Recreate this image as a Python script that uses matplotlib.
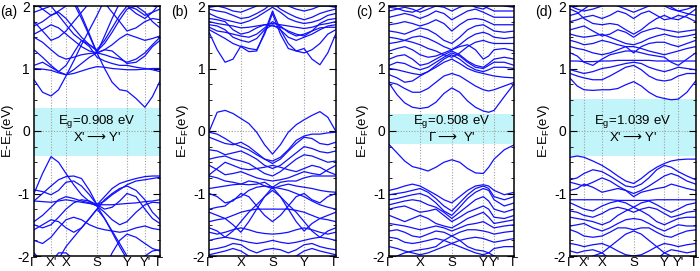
import matplotlib
matplotlib.use("Agg")
import matplotlib.pyplot as plt
from matplotlib.ticker import MultipleLocator

plt.rcParams['font.family'] = ['Liberation Sans', 'DejaVu Sans']
plt.rcParams['mathtext.fontset'] = 'dejavusans'

# ---------------- panel (a) ----------------
A_K = [0, .068, .135, .195, .254, .315, .377, .44, .5, .56, .62, .68, .738, .81, .88, .94, 1.0]
A_TICKS = [0, .135, .254, .5, .738, .88, 1.0]
A_LABELS = ['Γ', "X'", 'X', 'S', 'Y', "Y'", 'Γ']
A_VB = [
    [-1.00, -0.68, -0.41, -0.50, -0.68, -0.86, -1.02, -1.13, -1.20, -1.40, -1.62, -1.85, -2.05, -2.2, -2.3, -2.3, -2.3],
    [-1.12, -1.00, -0.88, -0.78, -0.73, -0.72, -0.76, -0.95, -1.18, -1.05, -0.92, -0.84, -0.80, -0.76, -0.73, -0.72, -0.72],
    [-0.94, -0.97, -1.02, -0.95, -0.82, -0.80, -0.88, -1.02, -1.18, -1.12, -1.02, -0.94, -0.86, -0.80, -0.78, -0.76, -0.74],
    [-1.12, -1.13, -1.14, -1.12, -1.10, -1.12, -1.14, -1.16, -1.18, -1.18, -1.18, -1.17, -1.16, -1.15, -1.13, -1.12, -1.10],
    [-1.45, -1.35, -1.22, -1.10, -1.05, -1.08, -1.12, -1.15, -1.20, -1.30, -1.42, -1.50, -1.45, -1.30, -1.18, -1.14, -1.15],
    [-1.50, -1.55, -1.50, -1.38, -1.25, -1.15, -1.10, -1.12, -1.18, -1.25, -1.22, -1.12, -1.00, -1.05, -1.25, -1.40, -1.48],
    [-1.58, -1.50, -1.42, -1.45, -1.55, -1.62, -1.55, -1.40, -1.25, -1.10, -1.00, -0.92, -0.88, -0.95, -1.10, -1.30, -1.42],
    [-1.75, -1.80, -1.70, -1.55, -1.42, -1.38, -1.42, -1.50, -1.55, -1.58, -1.60, -1.62, -1.60, -1.55, -1.52, -1.56, -1.58],
    [-1.95, -2.10, -2.20, -2.05, -1.85, -1.70, -1.55, -1.40, -1.25, -1.40, -1.60, -1.80, -2.00, -2.10, -2.00, -1.92, -1.90],
    [-2.3, -2.3, -2.10, -1.95, -1.95, -2.05, -2.15, -2.2, -2.3, -2.2, -1.95, -1.75, -1.65, -1.70, -1.80, -1.88, -1.92],
]
A_CB = [
    [0.82, 0.62, 0.56, 0.66, 0.88, 1.12, 1.38, 1.62, 1.85, 2.10, 2.2, 2.2, 2.2, 2.2, 2.2, 2.2, 2.2],
    [2.2, 2.2, 2.2, 2.2, 2.2, 2.10, 1.85, 1.55, 1.25, 1.00, 0.78, 0.66, 0.64, 0.52, 0.38, 0.55, 0.80],
    [1.00, 0.99, 0.97, 0.93, 0.90, 0.92, 0.96, 1.00, 1.03, 1.02, 1.00, 0.99, 0.98, 0.98, 0.99, 1.00, 1.00],
    [1.30, 1.18, 1.05, 0.95, 0.90, 0.98, 1.08, 1.18, 1.25, 1.30, 1.28, 1.18, 1.08, 1.10, 1.20, 1.35, 1.45],
    [1.50, 1.42, 1.30, 1.20, 1.15, 1.18, 1.22, 1.24, 1.25, 1.22, 1.18, 1.15, 1.10, 1.15, 1.25, 1.38, 1.50],
    [1.55, 1.62, 1.70, 1.65, 1.55, 1.45, 1.35, 1.28, 1.25, 1.30, 1.38, 1.48, 1.55, 1.50, 1.45, 1.48, 1.52],
    [1.68, 1.75, 1.85, 1.90, 1.80, 1.65, 1.50, 1.38, 1.28, 1.40, 1.58, 1.78, 1.95, 2.00, 1.90, 1.75, 1.65],
    [1.75, 1.60, 1.45, 1.50, 1.60, 1.75, 1.90, 2.05, 2.10, 2.05, 1.90, 1.75, 1.60, 1.65, 1.75, 1.80, 1.78],
    [1.90, 1.95, 2.00, 1.85, 1.70, 1.55, 1.45, 1.38, 1.30, 1.45, 1.65, 1.85, 2.00, 1.95, 1.85, 1.90, 1.95],
    [2.05, 1.95, 1.85, 1.92, 2.00, 2.10, 2.2, 2.2, 2.2, 2.2, 2.2, 2.10, 2.00, 1.88, 1.80, 1.90, 2.05],
    [2.2, 2.2, 2.2, 2.2, 2.2, 2.05, 1.80, 1.52, 1.25, 1.52, 1.80, 2.05, 2.2, 2.2, 2.2, 2.2, 2.2],
    [1.05, 1.10, 1.02, 0.95, 1.05, 1.25, 1.45, 1.35, 1.18, 1.12, 1.08, 1.05, 1.05, 1.02, 1.00, 0.98, 0.95],
]
A_GAP = (-0.40, 0.37)
A_TEXT = ['E$_\\mathregular{g}$=0.908 eV', "X'$\\longrightarrow$Y'"]

# ---------------- panel (b) ----------------
B_K = [i / 16 for i in range(17)]
B_TICKS = [0, .25, .5, .75, 1.0]
B_LABELS = ['Γ', 'X', 'S', 'Y', 'Γ']
B_VB = [
    [0.00, 0.30, 0.33, 0.28, 0.20, 0.12, -0.02, -0.22, -0.37, -0.22, -0.02, 0.10, 0.18, 0.25, 0.31, 0.22, 0.00],
    [-0.02, -0.05, -0.12, -0.20, -0.25, -0.30, -0.38, -0.45, -0.48, -0.42, -0.30, -0.15, -0.08, -0.05, -0.05, -0.03, -0.02],
    [-0.10, -0.15, -0.20, -0.22, -0.18, -0.25, -0.35, -0.45, -0.52, -0.45, -0.32, -0.20, -0.10, -0.12, -0.20, -0.22, -0.18],
    [-0.30, -0.32, -0.38, -0.35, -0.32, -0.38, -0.45, -0.55, -0.60, -0.55, -0.45, -0.35, -0.25, -0.28, -0.33, -0.35, -0.32],
    [-0.45, -0.42, -0.40, -0.45, -0.48, -0.52, -0.60, -0.68, -0.72, -0.65, -0.55, -0.45, -0.38, -0.40, -0.45, -0.50, -0.48],
    [-0.70, -0.60, -0.50, -0.55, -0.60, -0.62, -0.60, -0.58, -0.55, -0.58, -0.62, -0.65, -0.60, -0.55, -0.58, -0.65, -0.70],
    [-0.55, -0.62, -0.70, -0.68, -0.65, -0.70, -0.75, -0.78, -0.80, -0.78, -0.75, -0.70, -0.65, -0.68, -0.70, -0.62, -0.55],
    [-0.72, -0.75, -0.80, -0.82, -0.85, -0.86, -0.85, -0.82, -0.90, -0.82, -0.80, -0.80, -0.75, -0.72, -0.72, -0.72, -0.72],
    [-0.92, -0.90, -0.88, -0.86, -0.85, -0.80, -0.82, -0.88, -0.92, -0.88, -0.85, -0.88, -0.90, -0.92, -0.95, -0.97, -0.98],
    [-1.30, -1.35, -1.40, -1.50, -1.62, -1.45, -1.25, -1.05, -0.90, -1.05, -1.25, -1.45, -1.60, -1.48, -1.40, -1.35, -1.30],
    [-1.00, -1.05, -1.15, -1.12, -1.00, -1.05, -1.20, -1.35, -1.45, -1.35, -1.20, -1.05, -1.00, -1.10, -1.15, -1.05, -1.00],
    [-1.25, -1.22, -1.20, -1.10, -1.05, -0.95, -0.90, -0.88, -0.90, -0.92, -0.95, -1.00, -1.05, -1.12, -1.18, -1.22, -1.25],
    [-1.55, -1.60, -1.70, -1.60, -1.45, -1.30, -1.18, -1.05, -0.95, -1.05, -1.18, -1.30, -1.45, -1.60, -1.70, -1.60, -1.55],
    [-1.45, -1.42, -1.40, -1.35, -1.30, -1.27, -1.25, -1.25, -1.25, -1.25, -1.25, -1.27, -1.30, -1.35, -1.40, -1.42, -1.45],
    [-1.62, -1.65, -1.62, -1.58, -1.55, -1.58, -1.62, -1.64, -1.65, -1.64, -1.62, -1.58, -1.55, -1.58, -1.62, -1.65, -1.62],
    [-1.75, -1.72, -1.70, -1.72, -1.75, -1.78, -1.80, -1.78, -1.75, -1.78, -1.80, -1.78, -1.75, -1.72, -1.70, -1.72, -1.75],
    [-1.90, -1.88, -1.85, -1.80, -1.82, -1.90, -1.95, -1.90, -1.88, -1.90, -1.95, -1.90, -1.82, -1.80, -1.85, -1.88, -1.90],
    [-1.98, -1.95, -1.92, -1.88, -1.92, -2.00, -2.05, -2.10, -2.10, -2.10, -2.05, -2.00, -1.92, -1.88, -1.92, -1.95, -1.98],
]
B_CB = [
    [1.57, 1.30, 1.10, 1.15, 1.36, 1.32, 1.30, 1.55, 1.88, 1.55, 1.32, 1.28, 1.32, 1.15, 1.06, 1.25, 1.55],
    [1.62, 1.55, 1.48, 1.40, 1.35, 1.27, 1.28, 1.58, 1.92, 1.62, 1.40, 1.28, 1.25, 1.30, 1.40, 1.55, 1.62],
    [1.70, 1.68, 1.62, 1.50, 1.45, 1.42, 1.48, 1.62, 1.70, 1.62, 1.50, 1.45, 1.50, 1.55, 1.62, 1.68, 1.70],
    [1.75, 1.72, 1.70, 1.68, 1.65, 1.66, 1.68, 1.70, 1.72, 1.70, 1.68, 1.66, 1.64, 1.66, 1.70, 1.72, 1.75],
    [1.80, 1.78, 1.75, 1.62, 1.55, 1.58, 1.65, 1.70, 1.68, 1.66, 1.60, 1.55, 1.52, 1.60, 1.72, 1.78, 1.80],
    [1.88, 1.82, 1.78, 1.75, 1.72, 1.76, 1.82, 1.90, 1.98, 1.90, 1.80, 1.75, 1.72, 1.74, 1.78, 1.85, 1.88],
    [1.95, 1.92, 1.90, 1.85, 1.80, 1.82, 1.88, 1.95, 2.05, 1.95, 1.88, 1.82, 1.78, 1.82, 1.88, 1.92, 1.95],
    [1.98, 2.00, 1.97, 1.92, 1.90, 1.95, 2.00, 2.10, 2.10, 2.10, 2.00, 1.95, 1.92, 1.95, 2.00, 2.00, 1.98],
    [1.66, 1.60, 1.58, 1.55, 1.52, 1.50, 1.55, 1.65, 1.75, 1.68, 1.58, 1.52, 1.55, 1.60, 1.65, 1.66, 1.66],
]

# ---------------- panel (c) ----------------
C_K = [0, .062, .123, .185, .246, .31, .373, .437, .5, .563, .626, .689, .752, .795, .838, .92, 1.0]
C_TICKS = [0, .246, .5, .752, .838, 1.0]
C_LABELS = ['Γ', 'X', 'S', 'Y', "Y'", 'Γ']
C_VB = [
    [-0.22, -0.35, -0.48, -0.57, -0.60, -0.64, -0.58, -0.50, -0.46, -0.50, -0.60, -0.67, -0.68, -0.58, -0.45, -0.30, -0.22],
    [-0.95, -0.92, -0.88, -0.85, -0.88, -0.95, -1.02, -1.10, -1.15, -1.05, -0.95, -0.88, -0.86, -0.88, -0.95, -1.02, -0.98],
    [-1.02, -1.00, -0.98, -0.95, -0.92, -0.98, -1.08, -1.20, -1.28, -1.15, -1.02, -0.92, -0.88, -0.92, -1.05, -1.10, -1.05],
    [-1.10, -1.08, -1.05, -1.02, -1.00, -1.05, -1.15, -1.28, -1.35, -1.22, -1.08, -0.98, -0.92, -0.95, -1.10, -1.20, -1.15],
    [-1.18, -1.15, -1.12, -1.10, -1.12, -1.18, -1.22, -1.30, -1.40, -1.30, -1.20, -1.10, -1.05, -1.12, -1.25, -1.30, -1.25],
    [-1.25, -1.22, -1.20, -1.25, -1.30, -1.28, -1.25, -1.35, -1.45, -1.38, -1.30, -1.25, -1.20, -1.25, -1.38, -1.40, -1.35],
    [-1.35, -1.40, -1.45, -1.40, -1.35, -1.40, -1.48, -1.52, -1.55, -1.48, -1.40, -1.35, -1.30, -1.38, -1.48, -1.45, -1.42],
    [-1.48, -1.50, -1.52, -1.55, -1.58, -1.55, -1.52, -1.55, -1.60, -1.55, -1.50, -1.48, -1.45, -1.50, -1.55, -1.52, -1.50],
    [-1.60, -1.58, -1.62, -1.68, -1.70, -1.65, -1.60, -1.62, -1.68, -1.62, -1.58, -1.58, -1.60, -1.62, -1.65, -1.62, -1.60],
    [-1.70, -1.72, -1.78, -1.80, -1.78, -1.75, -1.72, -1.75, -1.80, -1.75, -1.72, -1.70, -1.72, -1.75, -1.78, -1.75, -1.72],
    [-2.10, -2.00, -1.95, -1.92, -1.90, -1.88, -1.85, -1.75, -1.68, -1.75, -1.85, -1.90, -1.92, -1.95, -2.00, -2.05, -2.10],
    [-1.85, -1.88, -1.92, -1.95, -1.98, -1.95, -1.90, -1.85, -1.80, -1.85, -1.90, -1.95, -1.98, -1.95, -1.88, -1.85, -1.85],
]
C_CB = [
    [0.76, 0.58, 0.45, 0.38, 0.36, 0.38, 0.46, 0.60, 0.69, 0.62, 0.48, 0.38, 0.32, 0.30, 0.33, 0.55, 0.76],
    [0.78, 0.75, 0.68, 0.62, 0.62, 0.68, 0.78, 0.88, 0.92, 0.88, 0.80, 0.72, 0.66, 0.64, 0.66, 0.72, 0.78],
    [0.90, 0.85, 0.78, 0.80, 0.88, 0.95, 1.02, 1.10, 1.15, 1.08, 1.00, 0.95, 0.92, 0.90, 0.88, 0.86, 0.85],
    [1.00, 0.98, 0.95, 0.92, 0.90, 0.95, 1.05, 1.15, 1.22, 1.15, 1.05, 0.98, 0.95, 0.98, 1.02, 1.02, 1.00],
    [1.05, 1.10, 1.08, 1.02, 0.98, 1.02, 1.10, 1.18, 1.25, 1.20, 1.10, 1.02, 1.00, 1.05, 1.10, 1.10, 1.05],
    [1.15, 1.20, 1.22, 1.15, 1.05, 1.08, 1.15, 1.22, 1.28, 1.22, 1.12, 1.05, 1.02, 1.08, 1.15, 1.18, 1.15],
    [1.28, 1.32, 1.35, 1.30, 1.22, 1.18, 1.20, 1.25, 1.30, 1.35, 1.38, 1.30, 1.15, 1.20, 1.30, 1.32, 1.28],
    [1.40, 1.42, 1.45, 1.42, 1.38, 1.32, 1.28, 1.22, 1.18, 1.25, 1.35, 1.42, 1.45, 1.42, 1.40, 1.40, 1.40],
    [1.50, 1.48, 1.45, 1.50, 1.52, 1.48, 1.42, 1.35, 1.30, 1.38, 1.48, 1.55, 1.58, 1.55, 1.50, 1.48, 1.50],
    [1.60, 1.58, 1.55, 1.60, 1.65, 1.62, 1.55, 1.45, 1.40, 1.50, 1.62, 1.68, 1.70, 1.65, 1.60, 1.58, 1.60],
    [1.70, 1.72, 1.75, 1.72, 1.68, 1.72, 1.78, 1.72, 1.60, 1.70, 1.78, 1.80, 1.78, 1.74, 1.70, 1.70, 1.70],
    [1.82, 1.85, 1.88, 1.85, 1.80, 1.85, 1.92, 1.88, 1.78, 1.85, 1.92, 1.95, 1.90, 1.86, 1.82, 1.82, 1.82],
    [1.92, 1.95, 1.98, 1.95, 1.90, 1.95, 2.00, 1.98, 1.92, 1.98, 2.02, 2.05, 2.00, 1.96, 1.92, 1.92, 1.92],
    [1.98, 1.96, 1.92, 1.90, 1.95, 2.02, 2.10, 2.10, 2.10, 2.10, 2.05, 1.98, 1.95, 2.00, 2.05, 2.00, 1.98],
]
C_GAP = (-0.21, 0.28)
C_TEXT = ['E$_\\mathregular{g}$=0.508 eV', 'Γ$\\longrightarrow$ Y\'']

# ---------------- panel (d) ----------------
D_K = [0, .055, .109, .18, .253, .316, .379, .442, .505, .566, .627, .689, .75, .805, .861, .93, 1.0]
D_TICKS = [0, .109, .253, .505, .75, .861, 1.0]
D_LABELS = ['Γ', "X'", 'X', 'S', 'Y', "Y'", 'Γ']
D_VB = [
    [-0.42, -0.40, -0.42, -0.48, -0.55, -0.63, -0.72, -0.80, -0.84, -0.76, -0.66, -0.58, -0.52, -0.48, -0.46, -0.45, -0.45],
    [-0.78, -0.75, -0.68, -0.62, -0.65, -0.72, -0.80, -0.88, -0.90, -0.85, -0.75, -0.62, -0.55, -0.58, -0.65, -0.72, -0.78],
    [-0.82, -0.85, -0.88, -0.82, -0.75, -0.80, -0.88, -0.95, -1.00, -0.95, -0.88, -0.80, -0.72, -0.68, -0.72, -0.80, -0.85],
    [-0.95, -0.92, -0.85, -0.90, -0.98, -0.95, -0.92, -0.95, -1.05, -0.98, -0.95, -0.92, -0.90, -0.85, -0.88, -0.92, -0.95],
    [-1.10, -1.10, -1.10, -1.10, -1.10, -1.10, -1.11, -1.11, -1.11, -1.11, -1.11, -1.10, -1.10, -1.10, -1.10, -1.10, -1.10],
    [-1.15, -1.20, -1.25, -1.28, -1.20, -1.15, -1.12, -1.15, -1.22, -1.15, -1.12, -1.18, -1.25, -1.30, -1.25, -1.18, -1.15],
    [-1.28, -1.30, -1.35, -1.38, -1.32, -1.25, -1.22, -1.25, -1.30, -1.25, -1.22, -1.25, -1.32, -1.38, -1.35, -1.30, -1.28],
    [-1.38, -1.40, -1.42, -1.45, -1.50, -1.45, -1.35, -1.28, -1.22, -1.28, -1.35, -1.45, -1.50, -1.45, -1.40, -1.38, -1.38],
    [-1.52, -1.50, -1.48, -1.55, -1.60, -1.55, -1.48, -1.42, -1.40, -1.42, -1.48, -1.55, -1.60, -1.55, -1.50, -1.52, -1.52],
    [-1.58, -1.62, -1.68, -1.70, -1.68, -1.62, -1.55, -1.55, -1.58, -1.55, -1.55, -1.62, -1.68, -1.70, -1.65, -1.60, -1.58],
    [-2.10, -2.10, -2.05, -2.00, -1.95, -1.85, -1.75, -1.65, -1.60, -1.65, -1.75, -1.85, -1.95, -2.00, -2.05, -2.10, -2.10],
    [-1.80, -1.82, -1.85, -1.82, -1.80, -1.85, -1.92, -1.98, -2.00, -1.98, -1.92, -1.85, -1.80, -1.82, -1.85, -1.82, -1.80],
    [-1.92, -1.95, -1.92, -1.90, -1.95, -2.05, -2.10, -2.10, -2.10, -2.10, -2.10, -2.05, -1.95, -1.90, -1.92, -1.95, -1.92],
]
D_CB = [
    [0.84, 0.72, 0.66, 0.65, 0.66, 0.66, 0.68, 0.74, 0.79, 0.72, 0.62, 0.55, 0.52, 0.50, 0.51, 0.62, 0.80],
    [0.92, 0.88, 0.85, 0.82, 0.82, 0.88, 0.95, 1.02, 1.05, 0.98, 0.88, 0.82, 0.80, 0.82, 0.88, 0.92, 0.92],
    [0.98, 0.95, 0.92, 0.95, 1.00, 1.02, 1.05, 1.08, 1.10, 1.08, 1.02, 0.98, 0.95, 0.98, 1.02, 1.00, 0.98],
    [1.12, 1.12, 1.11, 1.11, 1.12, 1.12, 1.13, 1.13, 1.13, 1.13, 1.13, 1.12, 1.12, 1.12, 1.12, 1.12, 1.12],
    [1.25, 1.20, 1.10, 1.05, 1.15, 1.22, 1.25, 1.28, 1.28, 1.25, 1.22, 1.20, 1.18, 1.10, 1.05, 1.15, 1.25],
    [1.35, 1.32, 1.30, 1.25, 1.22, 1.25, 1.30, 1.35, 1.35, 1.32, 1.28, 1.25, 1.22, 1.25, 1.28, 1.32, 1.35],
    [1.45, 1.42, 1.38, 1.40, 1.45, 1.42, 1.38, 1.35, 1.25, 1.35, 1.40, 1.42, 1.42, 1.38, 1.35, 1.40, 1.45],
    [1.55, 1.52, 1.50, 1.52, 1.55, 1.50, 1.45, 1.40, 1.38, 1.42, 1.48, 1.52, 1.55, 1.52, 1.50, 1.52, 1.55],
    [1.62, 1.65, 1.68, 1.60, 1.52, 1.55, 1.62, 1.58, 1.50, 1.58, 1.62, 1.65, 1.62, 1.60, 1.58, 1.60, 1.62],
    [1.95, 1.90, 1.80, 1.72, 1.70, 1.72, 1.70, 1.62, 1.55, 1.62, 1.72, 1.80, 1.85, 1.80, 1.78, 1.85, 1.95],
    [1.75, 1.78, 1.82, 1.85, 1.80, 1.85, 1.92, 1.88, 1.80, 1.88, 1.92, 1.85, 1.78, 1.80, 1.85, 1.82, 1.75],
    [2.00, 1.95, 1.92, 1.95, 2.00, 2.05, 2.00, 1.95, 1.90, 1.95, 2.00, 2.05, 2.00, 1.95, 1.92, 1.95, 2.00],
    [1.85, 1.88, 1.95, 2.05, 2.10, 2.10, 2.10, 2.10, 2.10, 2.10, 2.10, 2.10, 2.05, 1.98, 1.92, 1.88, 1.85],
]
D_GAP = (-0.40, 0.51)
D_TEXT = ['E$_\\mathregular{g}$=1.039 eV', "X'$\\longrightarrow$Y'"]

PANEL_TAGS = ['(a)', '(b)', '(c)', '(d)']

W, H = 700, 271
fig = plt.figure(figsize=(W / 100, H / 100), dpi=100)

# axes placement in pixels: left, right
boxes = [(34, 160), (209.3, 335.7), (389.3, 514.3), (570.3, 695.7)]
top_px, bot_px = 6, 256
tag_x = [0, 171, 356, 535]

panels = [
    (A_K, A_VB + A_CB, A_TICKS, A_LABELS, A_GAP, A_TEXT),
    (B_K, B_VB + B_CB, B_TICKS, B_LABELS, None, None),
    (C_K, C_VB + C_CB, C_TICKS, C_LABELS, C_GAP, C_TEXT),
    (D_K, D_VB + D_CB, D_TICKS, D_LABELS, D_GAP, D_TEXT),
]

for i, (k, bands, ticks, labels, gap, text) in enumerate(panels):
    l, r = boxes[i]
    ax = fig.add_axes([l / W, (H - bot_px) / H, (r - l) / W, (bot_px - top_px) / H])
    ax.set_xlim(0, 1)
    ax.set_ylim(-2, 2)
    if gap is not None:
        ax.axhspan(gap[0], gap[1], color='#c2f5f9', zorder=0, lw=0)
    for t in ticks[1:-1]:
        ax.axvline(t, color='#a0a0a0', ls=(0, (1, 1.5)), lw=0.8, zorder=1)
    ax.axhline(0, color='#a0a0a0', ls=(0, (1, 1.5)), lw=0.8, zorder=1)
    for b in bands:
        ax.plot(k, b, color='#1010ff', lw=0.9, zorder=2, solid_joinstyle='round')
    if text is not None:
        ax.text(0.5, 0.15, text[0], ha='center', va='center', fontsize=9.5, zorder=3)
        ax.text(0.5, -0.10, text[1], ha='center', va='center', fontsize=9.5, zorder=3)
    ax.set_xticks(ticks)
    ax.set_xticklabels(labels, fontsize=9.5)
    ax.tick_params(axis='x', length=0, pad=0.5)
    ax.yaxis.set_minor_locator(MultipleLocator(0.25))
    ax.set_yticks([-2, -1, 0, 1, 2])
    ax.set_yticklabels(['-2', '-1', '0', '1', '2'], fontsize=10)
    ax.tick_params(axis='y', which='both', direction='in', left=True, right=True, pad=3)
    ax.tick_params(axis='y', which='major', length=5, width=0.8)
    ax.tick_params(axis='y', which='minor', length=2.5, width=0.6)
    for s in ax.spines.values():
        s.set_linewidth(1.1)
    ax.set_ylabel('E-E$_\\mathregular{F}$(eV)', fontsize=9.5, labelpad=0)
    ax.yaxis.set_label_coords(-0.145, 0.5)
    fig.text(tag_x[i] / W, 1 - 12 / H, PANEL_TAGS[i], fontsize=10, ha='left', va='center')

fig.savefig('out.png', dpi=100)
